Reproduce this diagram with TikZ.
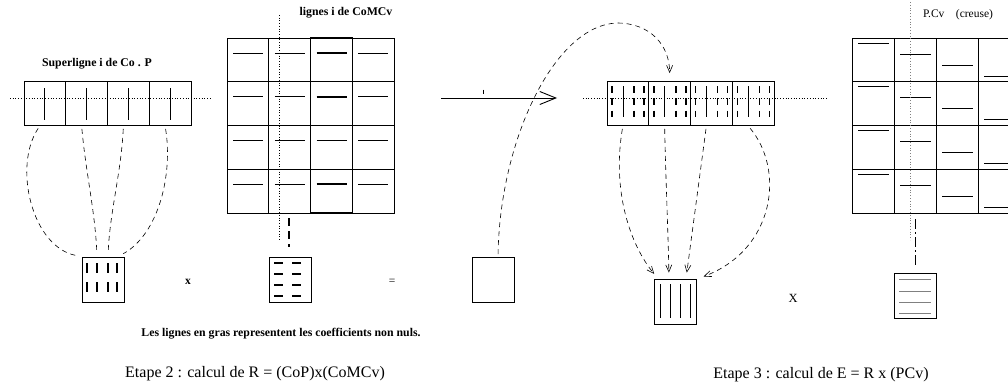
\documentclass[tikz,border=0pt]{standalone}
\usepackage{fontspec}
\setmainfont{Liberation Serif}
\usetikzlibrary{arrows.meta,calc}

\begin{document}
\begin{tikzpicture}[x=1pt, y=-1pt, >={Straight Barb[length=7pt,width=6pt]},
  cell/.style={draw, line width=0.8pt, minimum width=41.75pt,
    minimum height=44pt, inner sep=0pt},
  minibox/.style={draw, line width=0.8pt, minimum width=42pt,
    minimum height=45pt, inner sep=0pt},
  link/.style={dash pattern=on 5pt off 4pt, line width=0.6pt,
    shorten <=3pt, shorten >=6pt},
  title/.style={font=\bfseries\fontsize{11.8}{14}\selectfont},
  caption/.style={font=\fontsize{16}{18}\selectfont}]
  \path[use as bounding box, clip] (0,0) rectangle (1008,386);

  \foreach \i in {1,...,4}
    \node[cell] (p\i) at ({3.125+41.75*\i},103.5) {};
  \draw[dotted, line width=0.7pt] (10,98.7) -- (212,98.7);
  \foreach \i in {1,...,4}
    \draw[line width=1.2pt] ($(p\i.north)+(0,7)$) -- ($(p\i.south)+(0,-6)$);
  \node[title] (lcop) at (97,64) {Superligne i de Co . P};

  \node[minibox] (cop) at (103,279.5) {};
  \foreach \x in {87,97,108,117}
    \foreach \y in {263,282}
      \draw[line width=1.2pt] (\x,\y) -- (\x,\y+10);
  \draw[link] ([xshift=-5pt]p1.south) .. controls +(-27,40) and +(-50,-10) .. (cop.north west);
  \draw[link] ([xshift=-5pt]p2.south) .. controls +(4,45) and +(-2,-45) .. ([xshift=-6pt]cop.north);
  \draw[link] ([xshift=-5pt]p3.south) .. controls +(-2,45) and +(2,-45) .. ([xshift=5pt]cop.north);
  \draw[link] ([xshift=-5pt]p4.south) .. controls +(8,50) and +(40,-22) .. ([xshift=15pt]cop.north);
  \node[font=\bfseries\fontsize{11.5}{13}\selectfont] (times1) at (188,282) {x};

  \node[draw, line width=0.8pt, minimum width=167pt, minimum height=175pt,
    inner sep=0pt] (comcv) at (310.5,125.5) {};
  \foreach \c in {1,2,3}
    \draw[line width=0.8pt] (227+41.75*\c,38) -- (227+41.75*\c,213);
  \foreach \r in {1,2,3}
    \draw[line width=0.8pt] (227,38+43.75*\r) -- (394,38+43.75*\r);
  \draw[line width=1.3pt] (310.5,38) rectangle (352.25,213);
  \foreach \c in {0,1,3}
    \foreach \r in {0,...,3}
      \draw[line width=0.9pt] (233+41.75*\c,53+43.75*\r) -- ++(30,0);
  \foreach \r in {0,...,3}
    \draw[line width=1.8pt] (233+41.75*2,53+43.75*\r) -- ++(30,0);
  \draw[dotted, line width=0.7pt] (279,15) -- (279,240);
  \node[title] (lcomcv) at (346,13) {lignes i de CoMCv};

  \node[minibox] (cv) at (290,279.5) {};
  \foreach \y in {263,274,285,296} {
    \draw[line width=1.5pt] (274,\y) -- (283,\y);
    \draw[line width=1.5pt] (292,\y) -- (301,\y);
  }
  \draw[line width=1.6pt, dash pattern=on 8pt off 5pt]
    ($(cv.north |- comcv.south)+(-1,5)$) -- ($(cv.north)+(-1,-10)$);
  \node[font=\fontsize{11.5}{13}\selectfont] (eq) at (392,282) {=};

  \coordinate (a0) at (441,98);
  \coordinate (a1) at (557,98);
  \draw[-{Straight Barb[length=16pt,width=13pt]}, line width=0.9pt] (a0) -- (a1);
  \draw[line width=0.8pt] (483,89.5) -- (483,93.5);

  \node[minibox] (rbox) at (493,280) {};

  \foreach \i in {1,...,4}
    \node[cell] (e\i) at ({586.125+41.75*\i},103.5) {};
  \draw[dotted, line width=0.7pt] (583,98) -- (827,98);
  \foreach \i in {1,...,4} {
    \foreach \o in {5,27,37}
      \draw[line width=1.5pt, dash pattern=on 6.5pt off 5.8pt]
        ({565.25+41.75*\i+\o},86) -- ++(0,31);
    \draw[line width=0.6pt] ({565.25+41.75*\i+16},86) -- ++(0,31);
  }
  \coordinate (top) at (617,23);
  \draw[link, ->, shorten >=8pt] ([xshift=5pt]rbox.north) .. controls +(2,-118) and +(-62,2) .. (top)
    .. controls +(33,0) and +(0,-36) .. (e2.north);

  \node[minibox] (ebox) at (675,301.5) {};
  \foreach \x in {660,670,680,690}
    \draw[line width=0.6pt] (\x,284) -- (\x,318);
  \draw[link, ->] ([xshift=-5pt]e1.south) .. controls +(-11,65) and +(-28,-34) .. ([xshift=-17pt]ebox.north);
  \draw[link, ->] ([xshift=-5pt]e2.south) .. controls +(1,50) and +(-1,-50) .. ([xshift=-6pt]ebox.north);
  \draw[link, ->] ([xshift=-5pt]e3.south) -- ([xshift=11pt]ebox.north);
  \draw[link, ->] ([xshift=-5pt]e4.south) .. controls +(37,44) and +(77,-29) .. ([xshift=23pt]ebox.north);
  \node[font=\fontsize{12.5}{14}\selectfont] (times2) at (793,298) {X};

  \node[draw, line width=0.8pt, minimum width=168pt, minimum height=175pt,
    inner sep=0pt] (pcv) at (936,125.5) {};
  \foreach \c in {1,2,3}
    \draw[line width=0.8pt] (852+42*\c,38) -- (852+42*\c,213);
  \foreach \r in {1,2,3}
    \draw[line width=0.8pt] (852,38+43.75*\r) -- (1020,38+43.75*\r);
  \foreach \c in {0,...,3}
    \foreach \r in {0,...,3}
      \draw[line width=1pt] (858+42*\c,43+11*\c+43.75*\r) -- ++(31,0);
  \draw[dotted, gray, line width=0.8pt] (910,2) -- (910,240);
  \node[font=\fontsize{11.5}{13}\selectfont] (lpcv) at (958,15) {P.Cv\quad(creuse)};

  \node[minibox] (pbox) at (915,296) {};
  \foreach \y in {279,291,302,313}
    \draw[gray, line width=1pt] (899,\y) -- (931,\y);
  \draw[line width=1pt, dash pattern=on 10pt off 3pt on 2pt off 3pt]
    ($(pbox.north |- pcv.south)+(0,6)$) -- ($(pbox.north)+(0,-6)$);

  \node[title] (note) at (281,334) {Les lignes en gras representent les coefficients non nuls.};
  \node[caption] (step2) at (255,374) {Etape 2 : calcul de R = (CoP)x(CoMCv)};
  \node[caption] (step3) at (821,375) {Etape 3 : calcul de E = R x (PCv)};
\end{tikzpicture}
\end{document}
